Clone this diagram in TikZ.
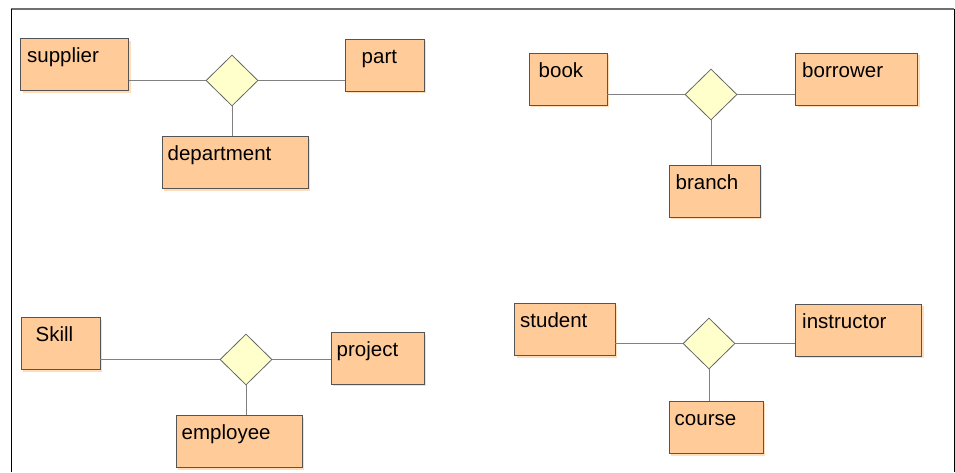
\documentclass[tikz,border=0pt]{standalone}
\usepackage{fontspec}
\setmainfont{Liberation Sans}
\usetikzlibrary{shapes.geometric,shadows,calc}

\definecolor{entfill}{HTML}{FFCC99}
\definecolor{entshade}{HTML}{FFDDB8}
\definecolor{entline}{HTML}{555555}
\definecolor{relfill}{HTML}{FFFFCC}
\definecolor{relline}{HTML}{666666}
\definecolor{linkline}{HTML}{808080}
\definecolor{frametop}{HTML}{707070}

\tikzset{
  entity/.style={draw=entline, line width=0.8pt, fill=entfill, inner sep=0pt,
    anchor=north west,
    drop shadow={shadow xshift=2.5pt, shadow yshift=-2.5pt, fill=entshade, opacity=1}},
  relation/.style={diamond, draw=relline, line width=0.8pt, fill=relfill, inner sep=0pt,
    minimum width=52pt, minimum height=51pt},
  entlabel/.style={anchor=base west, inner sep=0pt,
    font=\fontsize{20.5}{24}\selectfont},
  link/.style={draw=linkline, line width=0.8pt},
}

% entity box: name, top-left corner, size, label offset, text
\newcommand{\erbox}[7]{%
  \node[entity, minimum width=#4pt, minimum height=#5pt] (#1) at (#2,#3) {};
  \node[entlabel] (#1-t) at ($(#1.north west)+(#6,24.5)$) {#7};
}

\begin{document}
\begin{tikzpicture}[x=1pt, y=-1pt]
  \useasboundingbox (0,0) rectangle (955,472);

  % frame
  \coordinate (ftl) at (11,9);
  \coordinate (ftr) at (954,9);
  \coordinate (fbl) at (11,472);
  \coordinate (fbr) at (954,472);
  \draw[frametop, line width=1.6pt] (ftl) -- (ftr);
  \draw[black, line width=1pt] (ftl) -- (fbl);
  \draw[black, line width=1pt] (ftr) -- (fbr);

  % supplier / part / department
  \erbox{sup}{20}{38}{108}{52}{7}{supplier}
  \erbox{part}{344.5}{38.5}{79}{52}{17}{part}
  \erbox{dep}{161.5}{136}{146}{52}{6}{department}
  \node[relation] (r1) at (232,80.5) {};
  \draw[link] (r1.west) -- (r1.west -| sup.east);
  \draw[link] (r1.east) -- (r1.east -| part.west);
  \draw[link] (r1.south) -- (r1.south |- dep.north);

  % book / borrower / branch
  \erbox{book}{528.5}{52.5}{78}{52}{10}{book}
  \erbox{borr}{795}{52.5}{122}{52}{7}{borrower}
  \erbox{bran}{668.5}{164.5}{91}{52}{7}{branch}
  \node[relation] (r2) at (711,94.5) {};
  \draw[link] (r2.west) -- (r2.west -| book.east);
  \draw[link] (r2.east) -- (r2.east -| borr.west);
  \draw[link] (r2.south) -- (r2.south |- bran.north);

  % Skill / project / employee
  \erbox{skill}{20.5}{317}{79}{52}{15}{Skill}
  \erbox{proj}{330.5}{332}{93}{51.5}{6}{project}
  \erbox{emp}{175.5}{415}{126}{52}{6}{employee}
  \node[relation] (r3) at (246,359.5) {};
  \draw[link] (r3.west) -- (r3.west -| skill.east);
  \draw[link] (r3.east) -- (r3.east -| proj.west);
  \draw[link] (r3.south) -- (r3.south |- emp.north);

  % student / instructor / course
  \erbox{stud}{514}{303}{100.5}{52}{6}{student}
  \erbox{instr}{795}{303.5}{126}{52}{7}{instructor}
  \erbox{crs}{668.5}{401}{94}{52}{6}{course}
  \node[relation] (r4) at (709,343.5) {};
  \draw[link] (r4.west) -- (r4.west -| stud.east);
  \draw[link] (r4.east) -- (r4.east -| instr.west);
  \draw[link] (r4.south) -- (r4.south |- crs.north);
\end{tikzpicture}
\end{document}
